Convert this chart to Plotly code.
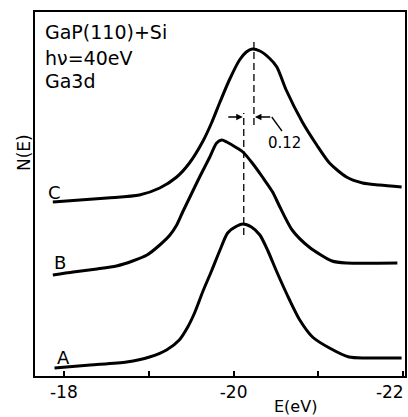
import plotly.graph_objects as go

# Curve A
E_A = [-17.89, -18.31, -18.74, -19.01, -19.21, -19.36, -19.46, -19.54, -19.64, -19.74, -19.84,
       -19.93, -20.04, -20.11, -20.21, -20.31, -20.40, -20.51, -20.66, -20.78, -20.93, -21.13,
       -21.36, -21.56, -21.98]
N_A = [8, 11, 14, 19, 26, 36, 49, 63, 85, 105, 126,
       143, 150, 152, 149, 141, 126, 104, 76, 56, 39, 28,
       19, 18, 18]
# Curve B
E_B = [-17.87, -18.11, -18.39, -18.62, -18.81, -18.98, -19.13, -19.25, -19.33, -19.40, -19.48,
       -19.60, -19.72, -19.80, -19.86, -19.92, -20.04, -20.11, -20.22, -20.34, -20.46, -20.54,
       -20.69, -20.89, -21.16, -21.33, -21.93]
N_B = [101, 104, 107, 110, 115, 121, 131, 141, 151, 164, 178,
       199, 219, 233, 236, 234, 228, 224, 213, 199, 184, 170,
       146, 129, 115, 113, 113]
# Curve C
E_C = [-17.87, -18.51, -18.89, -19.13, -19.33, -19.48, -19.64, -19.74, -19.84, -19.95, -20.07,
       -20.15, -20.22, -20.31, -20.42, -20.51, -20.62, -20.81, -20.98, -21.13, -21.33, -21.52,
       -21.72, -21.98]
N_C = [174, 178, 181, 188, 199, 213, 235, 253, 274, 296, 316,
       324, 327, 325, 318, 309, 286, 254, 231, 213, 199, 193,
       191, 189]

curves = [("A", E_A, N_A), ("B", E_B, N_B), ("C", E_C, N_C)]
curve_label_E = [-17.99, -17.95, -17.89]
curve_label_N = [19, 114, 184]

# peak markers (dashed verticals)
peak_E = [-20.12, -20.24]
peak_N_low = [141, 251]
peak_N_high = [263, 334]
shift_value = 0.12
arrow_N = 259
arrow_left_tail = -19.92
arrow_right_tail = -20.45
leader_end = [-20.57, 245]
shift_label_pos = [-20.60, 233]

NB = "\u00a0"
tick_vals = [-18, -19, -20, -21, -22]
tick_text = ["-18", "", "-20", "", "-22" + NB * 5]

info_lines = ["GaP(110)+Si", "hν=40eV", "Ga3d"]
info_N = [344, 318, 295]
info_E = -17.76

FONT = "DejaVu Sans"

fig = go.Figure()
for name, e, n in curves:
    fig.add_trace(go.Scatter(x=e, y=n, mode="lines", name=name,
                             line=dict(color="black", width=3, shape="spline", smoothing=0.7),
                             showlegend=False, hoverinfo="skip"))

for pe, lo, hi in zip(peak_E, peak_N_low, peak_N_high):
    fig.add_trace(go.Scatter(x=[pe, pe], y=[lo, hi], mode="lines",
                             line=dict(color="black", width=1.3, dash="7px,4px"),
                             showlegend=False, hoverinfo="skip"))

# leader line from label to arrow
fig.add_trace(go.Scatter(x=[arrow_right_tail, leader_end[0]], y=[arrow_N, leader_end[1]],
                         mode="lines", line=dict(color="black", width=1.3),
                         showlegend=False, hoverinfo="skip"))

annotations = []
annotations.append(dict(x=peak_E[0], y=arrow_N, ax=arrow_left_tail, ay=arrow_N,
                        xref="x", yref="y", axref="x", ayref="y", text="",
                        showarrow=True, arrowhead=2, arrowsize=1, arrowwidth=1.3,
                        arrowcolor="black", standoff=1))
annotations.append(dict(x=peak_E[1], y=arrow_N, ax=arrow_right_tail, ay=arrow_N,
                        xref="x", yref="y", axref="x", ayref="y", text="",
                        showarrow=True, arrowhead=2, arrowsize=1, arrowwidth=1.3,
                        arrowcolor="black", standoff=1))
annotations.append(dict(x=shift_label_pos[0], y=shift_label_pos[1], xref="x", yref="y",
                        text=f"{shift_value:.2f}", showarrow=False,
                        font=dict(family=FONT, size=15, color="black")))
for (name, _, _), le, ln in zip(curves, curve_label_E, curve_label_N):
    annotations.append(dict(x=le, y=ln, xref="x", yref="y", text=name, showarrow=False,
                            font=dict(family=FONT, size=18, color="black")))
for txt, n in zip(info_lines, info_N):
    annotations.append(dict(x=info_E, y=n, xref="x", yref="y", text=txt, showarrow=False,
                            xanchor="left", font=dict(family=FONT, size=19, color="black")))
# axis titles
annotations.append(dict(x=0.705, y=-0.083, xref="paper", yref="paper", text="E(eV)",
                        showarrow=False, xanchor="center", yanchor="middle",
                        font=dict(family=FONT, size=16, color="black")))
annotations.append(dict(x=-0.030, y=0.615, xref="paper", yref="paper", text="N(E)",
                        showarrow=False, xanchor="center", yanchor="middle", textangle=-90,
                        font=dict(family=FONT, size=17, color="black")))

fig.update_layout(
    width=408, height=417,
    margin=dict(l=35, r=3, t=12, b=41),
    paper_bgcolor="white", plot_bgcolor="white",
    annotations=annotations,
    font=dict(family=FONT, size=17, color="black"),
)
fig.update_xaxes(range=[-17.66, -22.02], tickvals=tick_vals, ticktext=tick_text,
                 ticks="inside", ticklen=5, tickwidth=1.5, tickcolor="black",
                 ticklabeloverflow="allow", automargin=False,
                 showline=True, linecolor="black", linewidth=2, mirror=True,
                 showgrid=False, zeroline=False,
                 tickfont=dict(family=FONT, size=17))
fig.update_yaxes(range=[0, 364], showticklabels=False, ticks="", automargin=False,
                 showline=True, linecolor="black", linewidth=2, mirror=True,
                 showgrid=False, zeroline=False)

fig.write_html("out.html")
